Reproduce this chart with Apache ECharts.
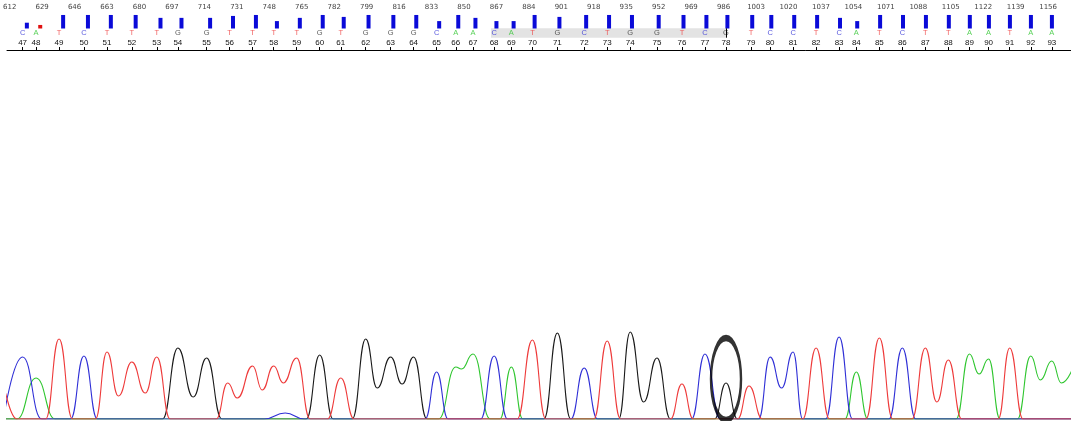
<!DOCTYPE html>
<html lang="en">
<head>
<meta charset="UTF-8">
<title>Trace</title>
<script src="https://cdn.jsdelivr.net/npm/echarts/dist/echarts.min.js"></script>
<style>
    html, body { margin: 0; padding: 0; background: #fff; }
    #chart { width: 1071px; height: 421px; }
</style>
</head>
<body>
<div id="chart"></div>
<script>
    // scan numbers printed along the top
    var scanTicks = [612, 629, 646, 663, 680, 697, 714, 731, 748, 765, 782, 799, 816, 833, 850, 867, 884, 901,
        918, 935, 952, 969, 986, 1003, 1020, 1037, 1054, 1071, 1088, 1105, 1122, 1139, 1156];

    // base calls 47..93, their scan position and quality
    var baseNums = [47, 48, 49, 50, 51, 52, 53, 54, 55, 56, 57, 58, 59, 60, 61, 62, 63, 64, 65, 66, 67, 68, 69, 70,
        71, 72, 73, 74, 75, 76, 77, 78, 79, 80, 81, 82, 83, 84, 85, 86, 87, 88, 89, 90, 91, 92, 93];
    var baseCalls = ['C', 'A', 'T', 'C', 'T', 'T', 'T', 'G', 'G', 'T', 'T', 'T', 'T', 'G', 'T', 'G', 'G', 'G', 'C', 'A',
        'A', 'C', 'A', 'T', 'G', 'C', 'T', 'G', 'G', 'T', 'C', 'G', 'T', 'C', 'C', 'T', 'C', 'A', 'T', 'C',
        'T', 'T', 'A', 'A', 'T', 'A', 'A'];
    var basePos = [621, 628, 640, 653, 665, 678, 691, 702, 717, 729, 741, 752, 764, 776, 787, 800, 813, 825, 837, 847,
        856, 867, 876, 887, 900, 914, 926, 938, 952, 965, 977, 988, 1001, 1011, 1023, 1035, 1047, 1056, 1068, 1080,
        1092, 1104, 1115, 1125, 1136, 1147, 1158];
    var quality = [18, 11, 42, 42, 42, 42, 33, 33, 33, 39, 42, 23, 33, 42, 36, 42, 42, 42, 23, 42,
        33, 23, 23, 42, 36, 42, 42, 42, 42, 42, 42, 42, 42, 42, 42, 42, 33, 23, 42, 42,
        42, 42, 42, 42, 42, 42, 42];

    // selected region and cursor (base numbers)
    var selStart = 68, cursorBase = 78;

    // traces: [scan, signal]
    var traceT = [[611, 36], [618, 0], [633, 0], [640, 80], [647, 0], [659, 0], [665, 67], [671, 23], [678, 57],
        [685, 26], [691, 62], [698, 0], [722, 0], [728, 36], [733, 21], [741, 53], [746, 29], [752, 53], [757, 36],
        [764, 61], [771, 0], [780, 0], [787, 41], [794, 0], [879, 0], [887, 79], [894, 0], [919, 0], [926, 78],
        [933, 0], [959, 0], [965, 35], [971, 0], [994, 0], [1000, 33], [1007, 0], [1028, 0], [1035, 71], [1042, 0],
        [1061, 0], [1068, 81], [1075, 0], [1085, 0], [1092, 71], [1098, 17], [1104, 59], [1111, 0], [1130, 0],
        [1136, 71], [1143, 0], [1168, 0]];
    var traceC = [[611, 0], [621, 62], [631, 0], [646, 0], [653, 63], [660, 0], [747, 0], [758, 6], [768, 0],
        [831, 0], [837, 47], [843, 0], [860, 0], [867, 63], [874, 0], [907, 0], [914, 51], [921, 0], [970, 0],
        [977, 65], [985, 0], [1005, 0], [1011, 62], [1017, 31], [1023, 67], [1028, 0], [1040, 0], [1047, 82],
        [1054, 0], [1073, 0], [1080, 71], [1087, 0], [1168, 0]];
    var traceA = [[612, 0], [618, 0], [628, 41], [638, 0], [838, 0], [847, 52], [850, 50], [856, 65], [865, 0],
        [870, 0], [876, 52], [882, 0], [1050, 0], [1056, 47], [1062, 0], [1108, 0], [1115, 65], [1120, 45],
        [1125, 60], [1131, 0], [1140, 0], [1147, 63], [1152, 39], [1158, 58], [1163, 36], [1170, 56]];
    var traceG = [[612, 0], [694, 0], [702, 71], [710, 22], [717, 61], [725, 0], [769, 0], [776, 64], [783, 0],
        [793, 0], [800, 80], [806, 31], [813, 62], [819, 35], [825, 62], [832, 0], [893, 0], [900, 86], [907, 0],
        [932, 0], [938, 87], [945, 17], [952, 61], [959, 0], [982, 0], [988, 36], [994, 0], [1168, 0]];

    var colors = { A: '#2fc62f', C: '#2f2fd6', G: '#1a1a1a', T: '#ee3a3a' };
    var lowQ = 15;

    var chart = echarts.init(document.getElementById('chart'));

    var letterData = baseCalls.map(function (b, i) {
        return { value: [basePos[i], 0.5], name: b, label: { color: b === 'G' ? '#333' : colors[b] } };
    });
    var barData = quality.map(function (q, i) { return [basePos[i], q]; });

    function trace(data, color) {
        return {
            type: 'line', xAxisIndex: 3, yAxisIndex: 3, data: data, showSymbol: false,
            smooth: 0.5, smoothMonotone: 'x', lineStyle: { color: color, width: 1.1 }, silent: true
        };
    }

    var option = {
        animation: false,
        backgroundColor: '#fff',
        grid: [
            { left: 0, right: 0, top: 14, height: 14.5 },
            { left: 0, right: 0, top: 28.3, height: 9.4 },
            { left: 7, right: 0, top: 38, height: 12 },
            { left: 7, right: 0, top: 319, height: 100 }
        ],
        xAxis: [
            {
                gridIndex: 0, type: 'value', min: 609.2, max: 1168, position: 'top',
                axisLine: { show: false }, axisTick: { show: false }, splitLine: { show: false },
                axisLabel: {
                    customValues: scanTicks, margin: 3, fontSize: 7, color: '#444', fontFamily: 'DejaVu Sans',
                    alignMinLabel: 'center', alignMaxLabel: 'center',
                    formatter: function (v) { return String(v); }
                }
            },
            { gridIndex: 1, type: 'value', min: 609.2, max: 1168, show: false },
            {
                gridIndex: 2, type: 'value', min: 612.85, max: 1168, position: 'bottom',
                axisLine: { lineStyle: { color: '#000', width: 1 } },
                axisTick: { inside: true, length: 3, customValues: basePos, lineStyle: { color: '#000' } },
                splitLine: { show: false },
                axisLabel: {
                    inside: true, margin: 3, customValues: basePos, fontSize: 8, color: '#111',
                    fontFamily: 'Liberation Sans',
                    formatter: function (v) { return baseNums[basePos.indexOf(v)]; }
                }
            },
            { gridIndex: 3, type: 'value', min: 612.85, max: 1168, show: false }
        ],
        yAxis: [
            { gridIndex: 0, type: 'value', min: 0, max: 45, show: false },
            { gridIndex: 1, type: 'value', min: 0, max: 1, show: false },
            { gridIndex: 2, type: 'value', min: 0, max: 1, show: false },
            { gridIndex: 3, type: 'value', min: 0, max: 100, show: false }
        ],
        series: [
            {
                type: 'bar', xAxisIndex: 0, yAxisIndex: 0, data: barData, barWidth: 4,
                itemStyle: { color: function (p) { return p.value[1] < lowQ ? '#e01010' : '#0a0ad8'; } }
            },
            {
                type: 'scatter', xAxisIndex: 1, yAxisIndex: 1, data: letterData, symbolSize: 0,
                label: {
                    show: true, position: 'inside', fontSize: 7.5, fontFamily: 'Liberation Sans',
                    formatter: function (p) { return p.name; }
                },
                markArea: {
                    silent: true, itemStyle: { color: '#e3e3e3' },
                    data: [[{ xAxis: basePos[selStart - baseNums[0]] - 1.6 }, { xAxis: basePos[cursorBase - baseNums[0]] }]]
                },
                markLine: {
                    silent: true, symbol: ['none', 'none'], label: { show: false },
                    lineStyle: { color: '#000', width: 1, type: 'solid' },
                    data: [{ xAxis: basePos[cursorBase - baseNums[0]] }]
                }
            },
            trace(traceG, colors.G),
            trace(traceA, colors.A),
            trace(traceC, colors.C),
            trace(traceT, colors.T),
            {
                type: 'scatter', xAxisIndex: 3, yAxisIndex: 3, z: 5, silent: true,
                data: [[basePos[cursorBase - baseNums[0]], 40]],
                symbol: 'circle', symbolSize: [30, 82],
                itemStyle: { color: 'rgba(0,0,0,0)', borderColor: '#000', borderWidth: 4 }
            }
        ]
    };
    chart.setOption(option);
</script>
</body>
</html>
